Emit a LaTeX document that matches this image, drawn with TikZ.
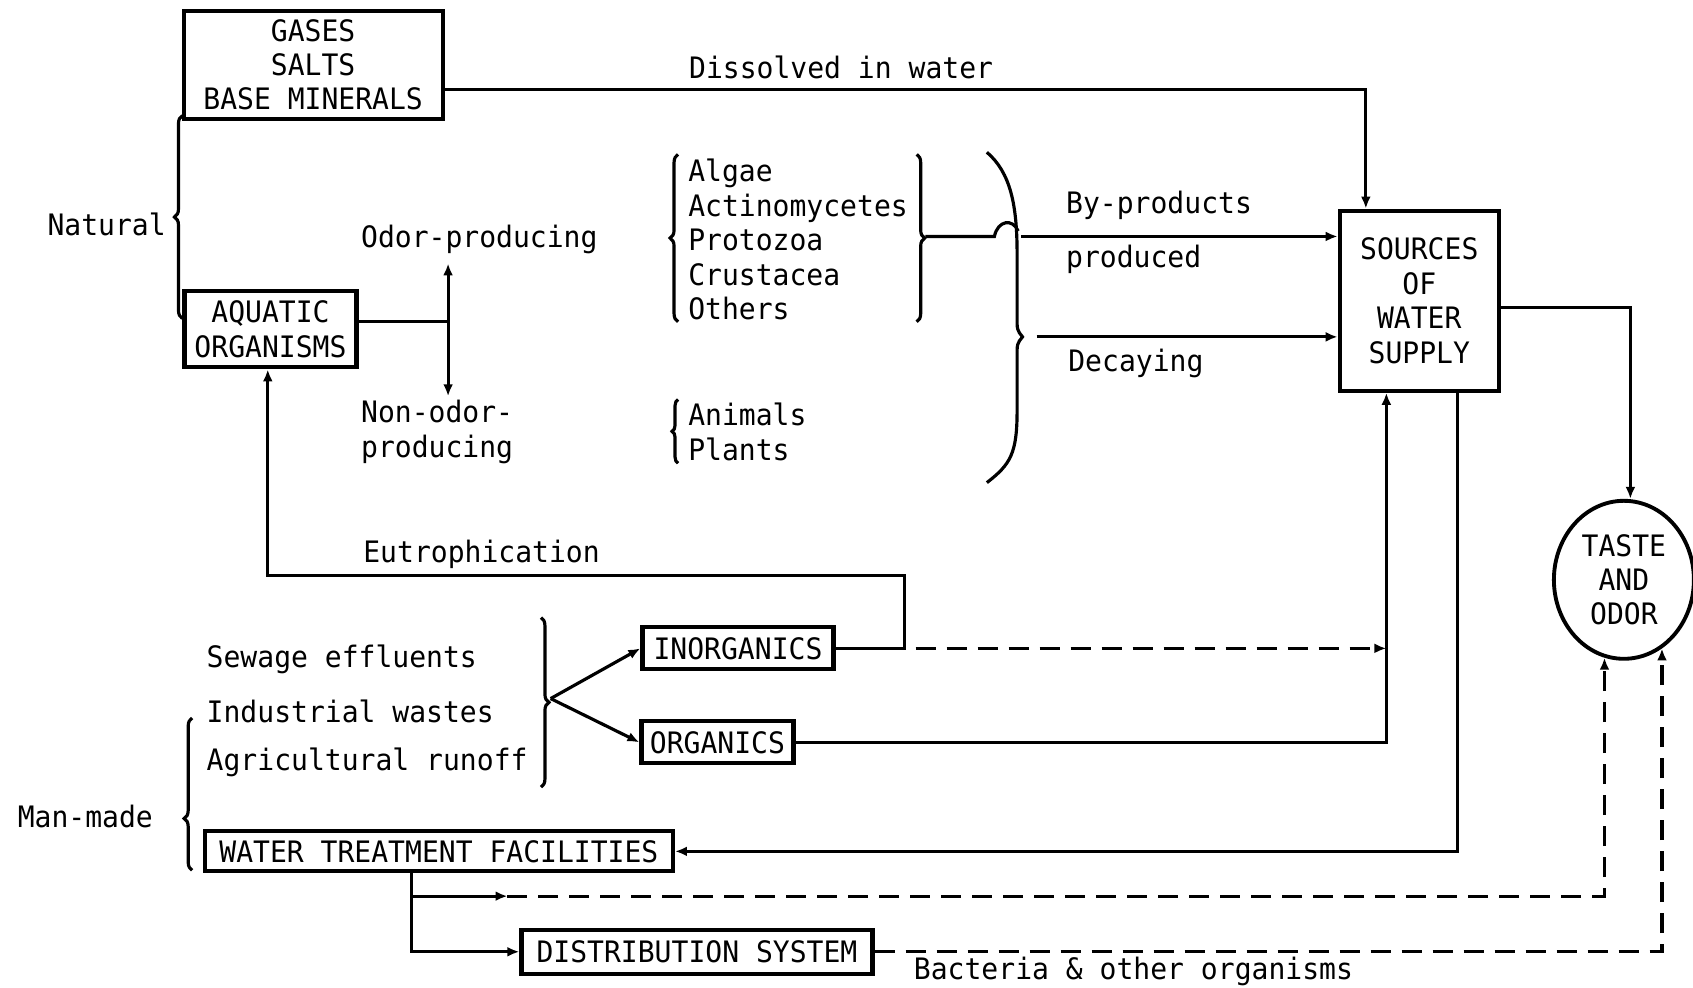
\documentclass[tikz,border=0pt]{standalone}
\usepackage{fontspec}
\newfontfamily\diafont[FakeStretch=0.95]{DejaVu Sans Mono}
\usetikzlibrary{arrows.meta,decorations.pathreplacing,shapes.geometric}

\begin{document}
\begin{tikzpicture}[x=0.10797mm, y=-0.10797mm, line width=0.9pt,
  font=\diafont\fontsize{8.4}{9.8}\selectfont,
  box/.style={draw, line width=1.2pt, inner sep=0pt, align=center},
  lbl/.style={inner sep=0pt},
  arr/.style={-{Latex[length=3.4pt,width=2.8pt]}},
  dsh/.style={dash pattern=on 2mm off 1.1mm},
  brc/.style={decorate, decoration={brace, amplitude=0.8mm}}]
\useasboundingbox (0,0) rectangle (1568,915);

\node[box, minimum width=25.9mm, minimum height=10.8mm] (gases) at (290,60) {GASES\\SALTS\\BASE MINERALS};
\node[box, minimum width=17.2mm, minimum height=7.6mm] (aquatic) at (250.5,305) {AQUATIC\\ORGANISMS};
\node[box, minimum width=15.9mm, minimum height=18mm] (sources) at (1314.5,278.5) {SOURCES\\OF\\WATER\\SUPPLY};
\node[ellipse, draw, line width=1.1pt, inner sep=0pt, minimum width=14mm, minimum height=15.8mm, align=center] (taste) at (1504,537) {TASTE\\AND\\ODOR};
\node[box, minimum width=19.1mm, minimum height=4.2mm] (inorg) at (683.5,600.5) {INORGANICS};
\node[box, minimum width=15.2mm, minimum height=4.2mm] (org) at (664.5,687.5) {ORGANICS};
\node[box, minimum width=46.8mm, minimum height=4mm] (treat) at (406.5,788.5) {WATER TREATMENT FACILITIES};
\node[box, minimum width=35.1mm, minimum height=4.4mm] (distr) at (645.5,881.5) {DISTRIBUTION SYSTEM};

\node[lbl] (dissolved) at (779,62) {Dissolved in water};
\node[lbl, anchor=east] (natural) at (155,208) {Natural};
\node[lbl, anchor=west] (odor) at (333,222) {Odor-producing};
\node[lbl, anchor=west, align=left] (nonodor) at (333,400) {Non-odor-\\producing};
\node[lbl, anchor=west, align=left] (micro) at (636,222) {Algae\\Actinomycetes\\Protozoa\\Crustacea\\Others};
\node[lbl, anchor=west, align=left] (macro) at (636,400) {Animals\\Plants};
\node[lbl, anchor=west] (byprod) at (986,190) {By-products};
\node[lbl, anchor=west] (produced) at (986,240) {produced};
\node[lbl, anchor=west] (decaying) at (988,337) {Decaying};
\node[lbl] (eutro) at (446,513) {Eutrophication};
\node[lbl, anchor=west] (sewage) at (190,611) {Sewage effluents};
\node[lbl, anchor=west] (industrial) at (190,659) {Industrial wastes};
\node[lbl, anchor=west] (agri) at (190,706) {Agricultural runoff};
\node[lbl, anchor=west] (manmade) at (15,756) {Man-made};
\node[lbl, anchor=west] (bacteria) at (845,900) {Bacteria \& other organisms};

\coordinate (dw) at (1265,83);
\coordinate (oj) at (415,298);
\coordinate (oup) at (415,244);
\coordinate (odn) at (415,367);
\coordinate (bt) at (857,219);
\coordinate (hop) at (921,219);
\coordinate (hopend) at (943,214);
\coordinate (bb) at (946,219);
\coordinate (dc) at (960,312);
\coordinate (tj) at (1510,285);
\coordinate (st) at (1350,788);
\coordinate (oc) at (1284,688);
\coordinate (eu) at (838,533);
\coordinate (ea) at (248,533);
\coordinate (ic) at (848,600.5);
\coordinate (sb) at (510,647);
\coordinate (tb) at (381,830);
\coordinate (d1) at (470,830);

\draw[arr] (gases.east |- dw) -| (sources.north -| dw);
\draw (aquatic.east |- oj) -- (oj);
\draw[{Latex[length=3.4pt,width=2.8pt]}-{Latex[length=3.4pt,width=2.8pt]}] (oup) -- (odn);
\draw (bt) -- (hop) .. controls (924,204) and (938,202) .. (hopend);
\draw[arr] (bb) -- (sources.west |- bb);
\draw[arr] (dc) -- (sources.west |- dc);
\draw (914,141) .. controls (936,160) and (942,190) .. (942,235) -- (942,300) .. controls (942,308) and (946,310) .. (947,312) .. controls (946,314) and (942,316) .. (942,324) -- (942,380) .. controls (942,420) and (936,430) .. (914,447);
\draw[arr] (sources.east |- tj) -| (taste.north -| tj);
\draw[arr] (sources.south -| st) |- (treat.east);
\draw[arr] (org.east) -| (sources.south -| oc);
\draw[arr] (inorg.east) -| (eu) -- (ea) -- (aquatic.south -| ea);
\draw[arr, dsh] (ic) -- (inorg.east -| oc);
\draw[arr] (sb) -- (inorg.west);
\draw[arr] (sb) -- (org.west);
\draw[arr] (treat.south -| tb) |- (distr.west);
\draw[arr] (tb) -- (d1);
\draw[arr, dsh] (d1) -| (taste.-104);
\draw[arr, dsh] (distr.east) -| (taste.-61);

\draw[brc] (169,295) -- (169,107);
\draw[brc] (628,298) -- (628,143);
\draw[brc] (849,143) -- (849,298);
\draw[brc, decoration={amplitude=0.6mm}] (628,429) -- (628,370);
\draw[brc] (501,572) -- (501,729);
\draw[brc, decoration={aspect=0.34}] (178,806) -- (178,665);
\end{tikzpicture}
\end{document}
